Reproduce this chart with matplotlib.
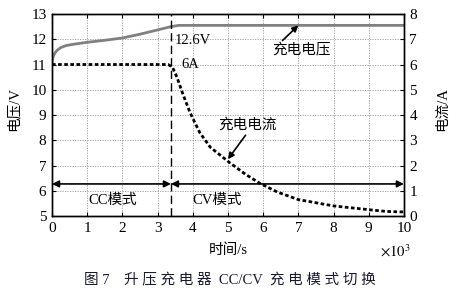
import matplotlib
matplotlib.use("Agg")
from matplotlib import pyplot as plt
import numpy as np

plt.rcParams['font.family'] = ['Liberation Serif', 'Noto Sans CJK SC']
plt.rcParams['mathtext.fontset'] = 'stix'

# voltage curve (x in 10^3 s, V)
t_v = [0, 0.03, 0.08, 0.15, 0.25, 0.4, 0.6, 1.0, 1.5, 2.0, 2.5, 3.0, 3.38, 3.6, 5, 7, 10]
v = [11.05, 11.3, 11.45, 11.57, 11.67, 11.75, 11.8, 11.88, 11.96, 12.05, 12.2, 12.37, 12.5, 12.55, 12.55, 12.55, 12.55]

# current curve (x in 10^3 s, A)
t_i = [0, 0.5, 1, 2, 3, 3.3, 3.42, 3.55, 3.7, 3.92, 4.2, 4.5, 5.06, 5.5, 5.9, 6.4, 7, 8, 9, 9.5, 10]
i = [6.0, 6.0, 6.0, 6.0, 6.0, 6.0, 5.9, 5.5, 4.9, 4.1, 3.3, 2.72, 2.1, 1.65, 1.3, 0.95, 0.65, 0.4, 0.25, 0.18, 0.16]

t_switch = 3.38
xticks = list(range(0, 11))
yticks_v = list(range(5, 14))
yticks_i = list(range(0, 9))

fig = plt.figure(figsize=(4.59, 2.95), dpi=100)
ax = fig.add_axes([0.1133, 0.2678, 0.7667, 0.6847])
ax2 = ax.twinx()

ax.set_xlim(0, 10)
ax.set_ylim(5, 13)
ax2.set_ylim(0, 8)
ax.set_xticks(xticks)
ax.set_yticks(yticks_v)
ax2.set_yticks(yticks_i)
ax.grid(True, color='#999999', linestyle=(0, (1.5, 1.5)), linewidth=0.6)
for a in (ax, ax2):
    a.tick_params(direction='in', labelsize=11, length=3, width=0.8, pad=4)
    for s in a.spines.values():
        s.set_linewidth(1.0)
ax.tick_params(top=True)

ax.plot(t_v, v, color='#808080', linewidth=2.0)
ax2.plot(t_i, i, color='black', linewidth=2.0, linestyle=(0, (1.3, 0.9)))
ax.axvline(t_switch, color='black', linewidth=1.0, linestyle=(0, (6, 3)))

# mode arrows
arrow_y = 6.27
ax.annotate('', xy=(0, arrow_y), xytext=(t_switch, arrow_y),
            arrowprops=dict(arrowstyle='<|-|>', color='black', lw=1.2, mutation_scale=10,
                            shrinkA=0, shrinkB=0))
ax.annotate('', xy=(t_switch, arrow_y), xytext=(10, arrow_y),
            arrowprops=dict(arrowstyle='<|-|>', color='black', lw=1.2, mutation_scale=10,
                            shrinkA=0, shrinkB=0))
ax.text(1.73, 5.6, 'CC模式', ha='center', va='center', fontsize=10.5)
ax.text(4.7, 5.6, 'CV模式', ha='center', va='center', fontsize=10.5)

ax.text(3.5, 11.95, '12.6V', ha='left', va='center', fontsize=10.5)
ax.text(3.68, 11.0, '6A', ha='left', va='center', fontsize=10.5)

ax2.text(7.1, 6.55, '充电电压', ha='center', va='center', fontsize=10.5)
ax2.annotate('', xy=(7.0, 7.55), xytext=(6.55, 6.95),
             arrowprops=dict(arrowstyle='-|>', color='black', lw=1.2,
                             mutation_scale=9, shrinkA=0, shrinkB=0))
ax2.text(5.55, 3.6, '充电电流', ha='center', va='center', fontsize=10.5)
ax2.annotate('', xy=(5.0, 2.25), xytext=(5.5, 3.2),
             arrowprops=dict(arrowstyle='-|>', color='black', lw=1.2,
                             mutation_scale=9, shrinkA=0, shrinkB=0))

ax.set_ylabel('电压/V', fontsize=10.5)
ax.yaxis.set_label_coords(-0.09, 0.53)
ax2.set_ylabel('电流/A', fontsize=10.5)
ax2.yaxis.set_label_coords(1.09, 0.53)
ax.set_xlabel('时间/s', fontsize=10.5, labelpad=6)
ax.text(9.75, -0.175, r'$\times10^3$', transform=ax.get_xaxis_transform(),
        ha='center', va='center', fontsize=10.5)

fig.text(0.5, 0.05, '图 7    升 压 充 电 器  CC/CV  充 电 模 式 切 换', ha='center', va='center',
         fontsize=10.5, color='#1a1a2e')

fig.savefig('out.png', dpi=100)
